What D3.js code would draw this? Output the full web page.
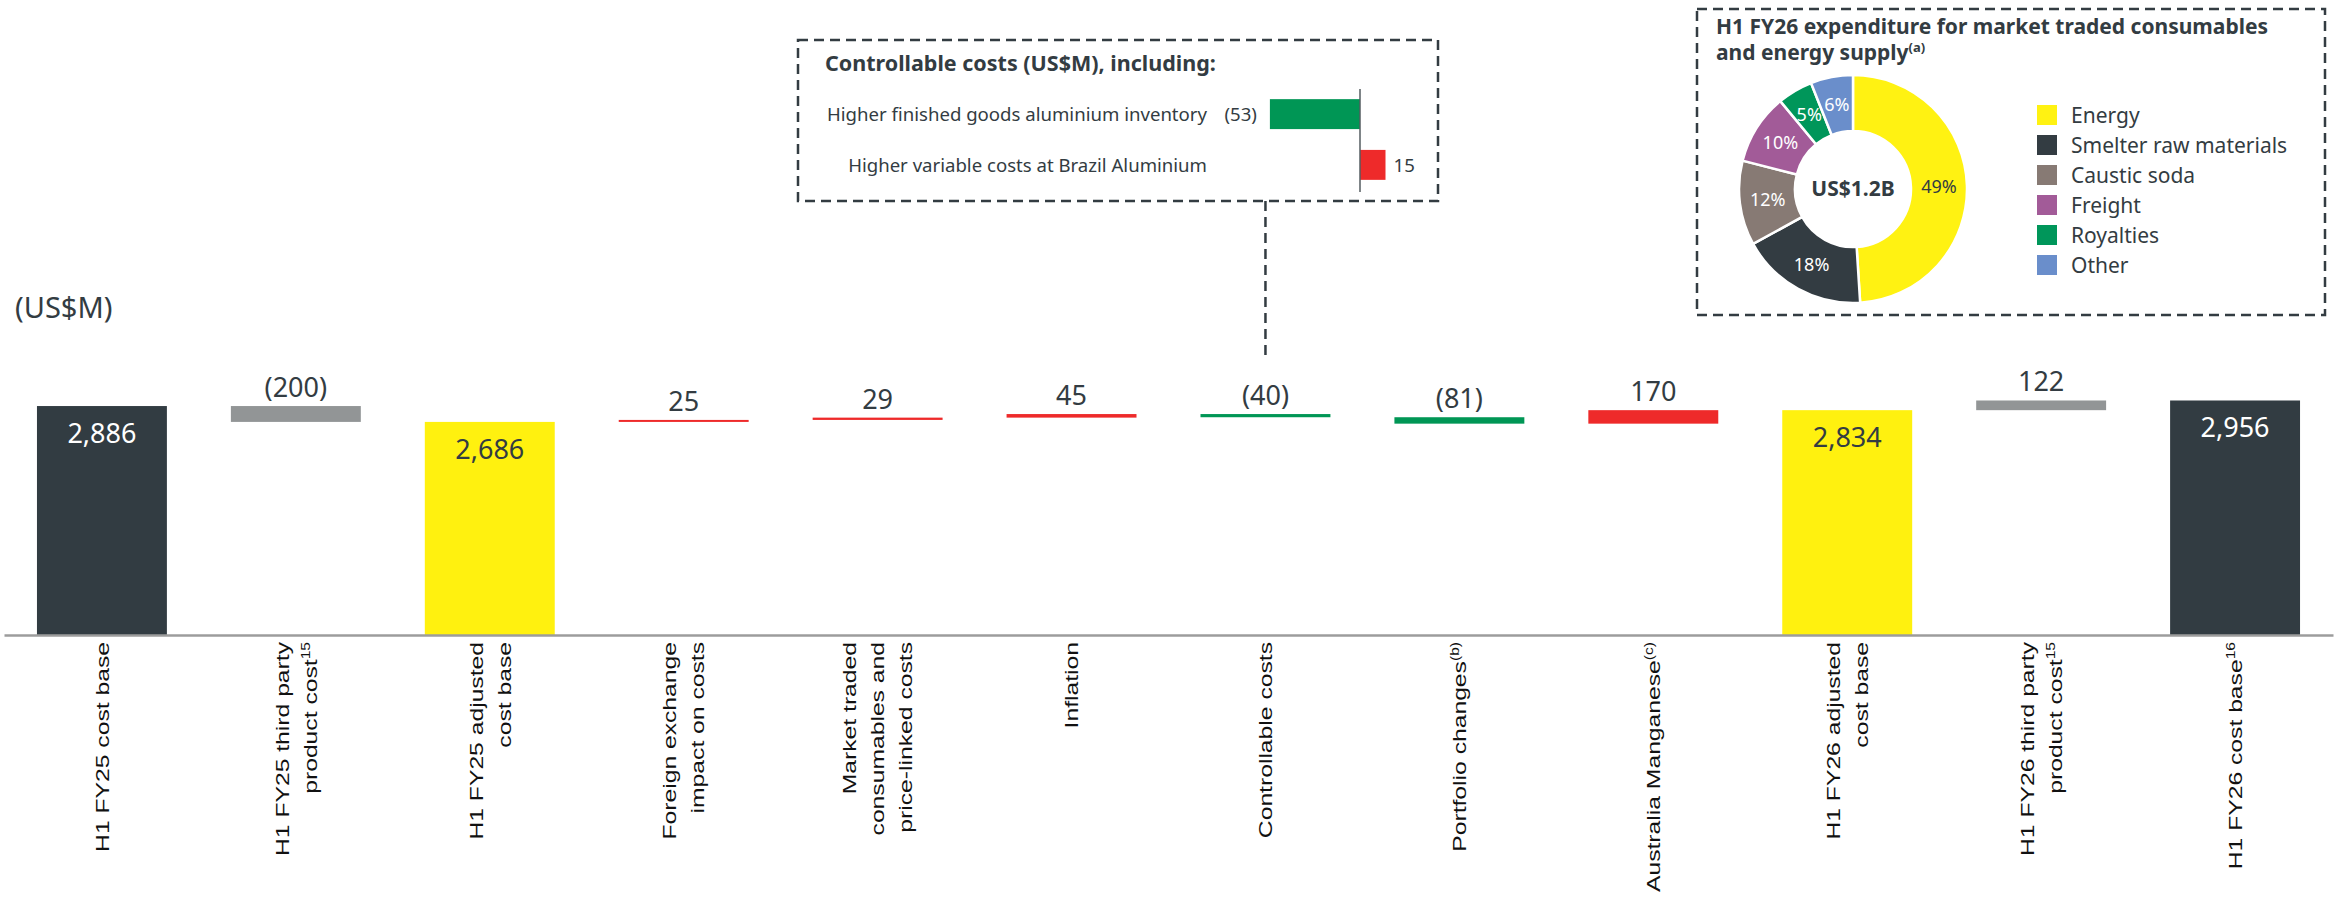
<!DOCTYPE html>
<html>
<head>
<meta charset="utf-8">
<script src="https://cdn.jsdelivr.net/npm/d3@7"></script>
<style>
  body { margin: 0; background: #fff; }
  text { font-family: 'Noto Sans', sans-serif; fill: #333c42; }
</style>
</head>
<body>
<div id="chart"></div>
<script>
const WIDTH = 2338;
const HEIGHT = 898;

// waterfall data
const categories = [
  'H1 FY25 cost base', 'H1 FY25 third party product cost', 'H1 FY25 adjusted cost base',
  'Foreign exchange impact on costs', 'Market traded consumables and price-linked costs',
  'Inflation', 'Controllable costs', 'Portfolio changes', 'Australia Manganese',
  'H1 FY26 adjusted cost base', 'H1 FY26 third party product cost', 'H1 FY26 cost base'
];
const labelLines = [
  ['H1 FY25 cost base'], ['H1 FY25 third party', 'product cost'], ['H1 FY25 adjusted', 'cost base'],
  ['Foreign exchange', 'impact on costs'], ['Market traded', 'consumables and', 'price-linked costs'],
  ['Inflation'], ['Controllable costs'], ['Portfolio changes'], ['Australia Manganese'],
  ['H1 FY26 adjusted', 'cost base'], ['H1 FY26 third party', 'product cost'], ['H1 FY26 cost base']
];
const labelNotes = ['', '15', '', '', '', '', '', '(b)', '(c)', '', '15', '16'];
const kinds = ['base', 'third', 'adjusted', 'change', 'change', 'change', 'change', 'change', 'change', 'adjusted', 'third', 'base'];
const values = [2886, -200, 2686, 25, 29, 45, -40, -81, 170, 2834, 122, 2956];

// controllable costs inset
const controlItems = ['Higher finished goods aluminium inventory', 'Higher variable costs at Brazil Aluminium'];
const controlValues = [-53, 15];

// expenditure donut
const spendGroups = ['Energy', 'Smelter raw materials', 'Caustic soda', 'Freight', 'Royalties', 'Other'];
const spendShares = [49, 18, 12, 10, 5, 6];
const spendTotal = 'US$1.2B';

const COLORS = { base: '#323c42', third: '#929596', adjusted: '#fff10f', up: '#ee2a2a', down: '#009655' };
const SPEND_COLORS = ['#fff212', '#333c42', '#877a74', '#a25b98', '#00965a', '#6a8ecb'];
const INK = '#333c42';

const svg = d3.select('#chart').append('svg')
  .attr('width', WIDTH)
  .attr('height', HEIGHT);

const x = d3.scaleBand()
  .domain(categories)
  .range([4, 2333])
  .paddingInner(0.33)
  .paddingOuter(0.17);

const y = d3.scaleLinear()
  .domain([0, 3000])
  .range([635, 397]);

const isTotal = k => k === 'base' || k === 'adjusted';
const fmt = d3.format(',');
const fmtDelta = v => v < 0 ? `(${fmt(-v)})` : fmt(v);

let running = 0;
const steps = values.map((v, i) => {
  let y0, y1;
  if (isTotal(kinds[i])) {
    y0 = 0; y1 = v; running = v;
  } else {
    y0 = running; y1 = running + v; running = y1;
  }
  return { cat: categories[i], kind: kinds[i], value: v, y0, y1 };
});

const colorOf = d => d.kind === 'change' ? (d.value < 0 ? COLORS.down : COLORS.up) : COLORS[d.kind];

// unit label
svg.append('text')
  .attr('x', 15)
  .attr('y', 318)
  .style('font-size', '29px')
  .text('(US$M)');

// bars
svg.append('g').selectAll('rect')
  .data(steps)
  .enter()
  .append('rect')
  .attr('x', d => x(d.cat))
  .attr('width', x.bandwidth())
  .attr('y', d => y(Math.max(d.y0, d.y1)))
  .attr('height', d => Math.max(2, Math.abs(y(d.y0) - y(d.y1))))
  .attr('fill', colorOf);

// axis line
svg.append('g')
  .attr('transform', `translate(0,${y(0)})`)
  .call(d3.axisBottom(x).tickSize(0).tickSizeOuter(0).tickFormat(''))
  .call(g => g.select('.domain').attr('stroke', '#9c9c9c').attr('stroke-width', 2.5));

// value labels
svg.append('g').selectAll('text')
  .data(steps)
  .enter()
  .append('text')
  .attr('x', d => x(d.cat) + x.bandwidth() / 2)
  .attr('y', d => isTotal(d.kind) ? y(d.y1) + 37 : y(Math.max(d.y0, d.y1)) - 9)
  .attr('text-anchor', 'middle')
  .style('font-size', '27px')
  .style('fill', d => d.kind === 'base' ? '#fff' : INK)
  .text(d => isTotal(d.kind) ? fmt(d.value) : fmtDelta(d.value));

// rotated category labels
const LABEL_SIZE = 19;
const LINE_GAP = 28;
const capH = LABEL_SIZE * 0.716;
categories.forEach((c, i) => {
  const lines = labelLines[i];
  const cx = x(c) + x.bandwidth() / 2;
  lines.forEach((line, j) => {
    const bx = cx + capH / 2 + (j - (lines.length - 1) / 2) * LINE_GAP;
    const t = svg.append('text')
      .attr('transform', `translate(${bx},642) rotate(-90) scale(1.3,1)`)
      .attr('text-anchor', 'end')
      .style('font-family', "'Liberation Sans', Arial, sans-serif")
      .style('font-size', LABEL_SIZE + 'px')
      .style('fill', '#111');
    t.append('tspan').text(line);
    if (j === lines.length - 1 && labelNotes[i]) {
      t.append('tspan')
        .attr('dy', -7)
        .style('font-size', '12px')
        .text(labelNotes[i]);
    }
  });
});

// ---- controllable costs inset ----
const dash = g => g.attr('fill', 'none').attr('stroke', INK).attr('stroke-width', 2.5).attr('stroke-dasharray', '10,6');

svg.append('rect')
  .attr('x', 798).attr('y', 40).attr('width', 640).attr('height', 161)
  .call(dash);

const cxCtrl = x('Controllable costs') + x.bandwidth() / 2;
svg.append('line')
  .attr('x1', cxCtrl).attr('x2', cxCtrl)
  .attr('y1', 201).attr('y2', 360)
  .call(dash);

svg.append('text')
  .attr('x', 825).attr('y', 71)
  .style('font-size', '21.5px')
  .style('font-weight', 700)
  .text('Controllable costs (US$M), including:');

const ix = d3.scaleLinear().domain([-60, 20]).range([1258, 1394]);
const iy = d3.scaleBand().domain(controlItems).range([89, 190]).paddingInner(0.41).paddingOuter(0.2);

const rows = svg.append('g').selectAll('g')
  .data(controlItems.map((name, i) => ({ name, value: controlValues[i] })))
  .enter()
  .append('g');

rows.append('rect')
  .attr('x', d => ix(Math.min(0, d.value)))
  .attr('width', d => Math.abs(ix(d.value) - ix(0)))
  .attr('y', d => iy(d.name))
  .attr('height', iy.bandwidth())
  .attr('fill', d => d.value < 0 ? COLORS.down : COLORS.up);

rows.append('text')
  .attr('x', 1207)
  .attr('y', d => iy(d.name) + iy.bandwidth() / 2 + 7)
  .attr('text-anchor', 'end')
  .style('font-size', '18.6px')
  .text(d => d.name);

rows.append('text')
  .attr('x', d => d.value < 0 ? ix(d.value) - 13 : ix(d.value) + 8)
  .attr('y', d => iy(d.name) + iy.bandwidth() / 2 + 7)
  .attr('text-anchor', d => d.value < 0 ? 'end' : 'start')
  .style('font-size', '18.6px')
  .text(d => fmtDelta(d.value));

svg.append('line')
  .attr('x1', ix(0)).attr('x2', ix(0))
  .attr('y1', 89).attr('y2', 192)
  .attr('stroke', '#555c60')
  .attr('stroke-width', 1.5);

// ---- expenditure donut inset ----
svg.append('rect')
  .attr('x', 1697).attr('y', 9).attr('width', 628).attr('height', 306)
  .call(dash);

const title = svg.append('g').style('font-size', '21px').style('font-weight', 700);
title.append('text').attr('x', 1716).attr('y', 34)
  .text('H1 FY26 expenditure for market traded consumables');
const t2 = title.append('text').attr('x', 1716).attr('y', 60);
t2.append('tspan').text('and energy supply');
t2.append('tspan').attr('dy', -8).style('font-size', '13px').text('(a)');

const pie = d3.pie().sort(null).value(d => d.share);
const arc = d3.arc().innerRadius(58).outerRadius(114);
const spend = spendGroups.map((name, i) => ({ name, share: spendShares[i], color: SPEND_COLORS[i] }));

const donut = svg.append('g').attr('transform', 'translate(1853,189)');
donut.selectAll('path')
  .data(pie(spend))
  .enter()
  .append('path')
  .attr('d', arc)
  .attr('fill', d => d.data.color)
  .attr('stroke', '#fff')
  .attr('stroke-width', 2.5);

donut.selectAll('text.pct')
  .data(pie(spend))
  .enter()
  .append('text')
  .attr('class', 'pct')
  .attr('transform', d => `translate(${arc.centroid(d)})`)
  .attr('text-anchor', 'middle')
  .attr('dy', '0.36em')
  .style('font-size', '18px')
  .style('fill', d => d.index === 0 ? INK : '#fff')
  .text(d => d.data.share + '%');

donut.append('text')
  .attr('text-anchor', 'middle')
  .attr('y', 7)
  .style('font-size', '21px')
  .style('font-weight', 700)
  .text(spendTotal);

const legend = svg.append('g').selectAll('g')
  .data(spend)
  .enter()
  .append('g')
  .attr('transform', (d, i) => `translate(2037,${105 + i * 30})`);

legend.append('rect')
  .attr('width', 20).attr('height', 20)
  .attr('fill', d => d.color);

legend.append('text')
  .attr('x', 34).attr('y', 18)
  .style('font-size', '21px')
  .text(d => d.name);
</script>
</body>
</html>
